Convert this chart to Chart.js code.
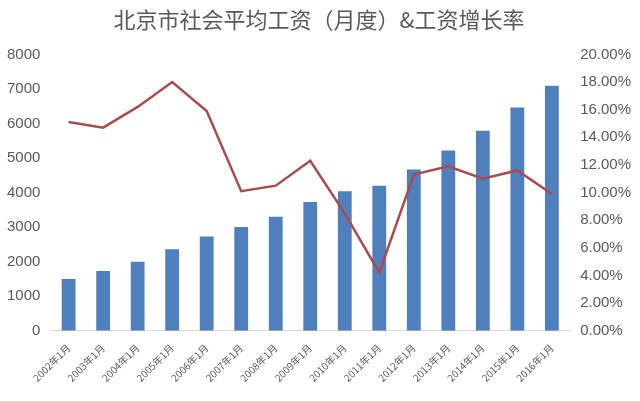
<!DOCTYPE html>
<html><head><meta charset="utf-8">
<script src="https://cdn.jsdelivr.net/npm/chart.js@4"></script>
<style>body{margin:0;background:#fff}#wrap{width:640px;height:401px}</style>
</head><body><div id="wrap"><canvas id="c"></canvas></div>
<script>
const years = ['2002年1月','2003年1月','2004年1月','2005年1月','2006年1月','2007年1月','2008年1月','2009年1月','2010年1月','2011年1月','2012年1月','2013年1月','2014年1月','2015年1月','2016年1月'];
const wages = [1500,1730,2000,2360,2730,3000,3300,3730,4040,4200,4670,5220,5790,6460,7090];
const growth = [15.1,14.7,16.2,18.0,15.9,10.1,10.5,12.3,8.5,4.2,11.3,11.9,11.0,11.6,9.9];

new Chart(document.getElementById('c'), {
  data: {
    labels: years,
    datasets: [
      { type: 'line', label: '工资增长率', data: growth, yAxisID: 'y1', borderColor: '#a84c4c', borderWidth: 2.5, pointRadius: 0, tension: 0 },
      { type: 'bar', label: '月平均工资', data: wages, yAxisID: 'y', backgroundColor: '#4f7fbd', barPercentage: 0.4, categoryPercentage: 1 }
    ]
  },
  options: {
    responsive: true, maintainAspectRatio: false, animation: false,
    layout: { padding: { left: 4, right: 6, top: 0, bottom: 14 } },
    plugins: {
      legend: { display: false },
      title: { display: true, text: '北京市社会平均工资（月度）&工资增长率', color: '#595959',
        font: { size: 22, weight: 'normal', family: 'Noto Sans CJK SC' }, padding: { top: 6, bottom: 22 } }
    },
    scales: {
      x: { grid: { display: false }, border: { color: '#d9d9d9' },
        ticks: { color: '#595959', maxRotation: 45, minRotation: 45, font: { size: 10, family: 'Noto Sans CJK SC' } } },
      y: { min: 0, max: 8000, ticks: { stepSize: 1000, color: '#595959', font: { size: 15 }, callback: v => String(v) },
        grid: { display: false }, border: { display: false } },
      y1: { position: 'right', min: 0, max: 20, ticks: { stepSize: 2, color: '#595959', font: { size: 15 }, callback: v => v.toFixed(2) + '%' },
        grid: { display: false }, border: { display: false } }
    }
  }
});
</script></body></html>
